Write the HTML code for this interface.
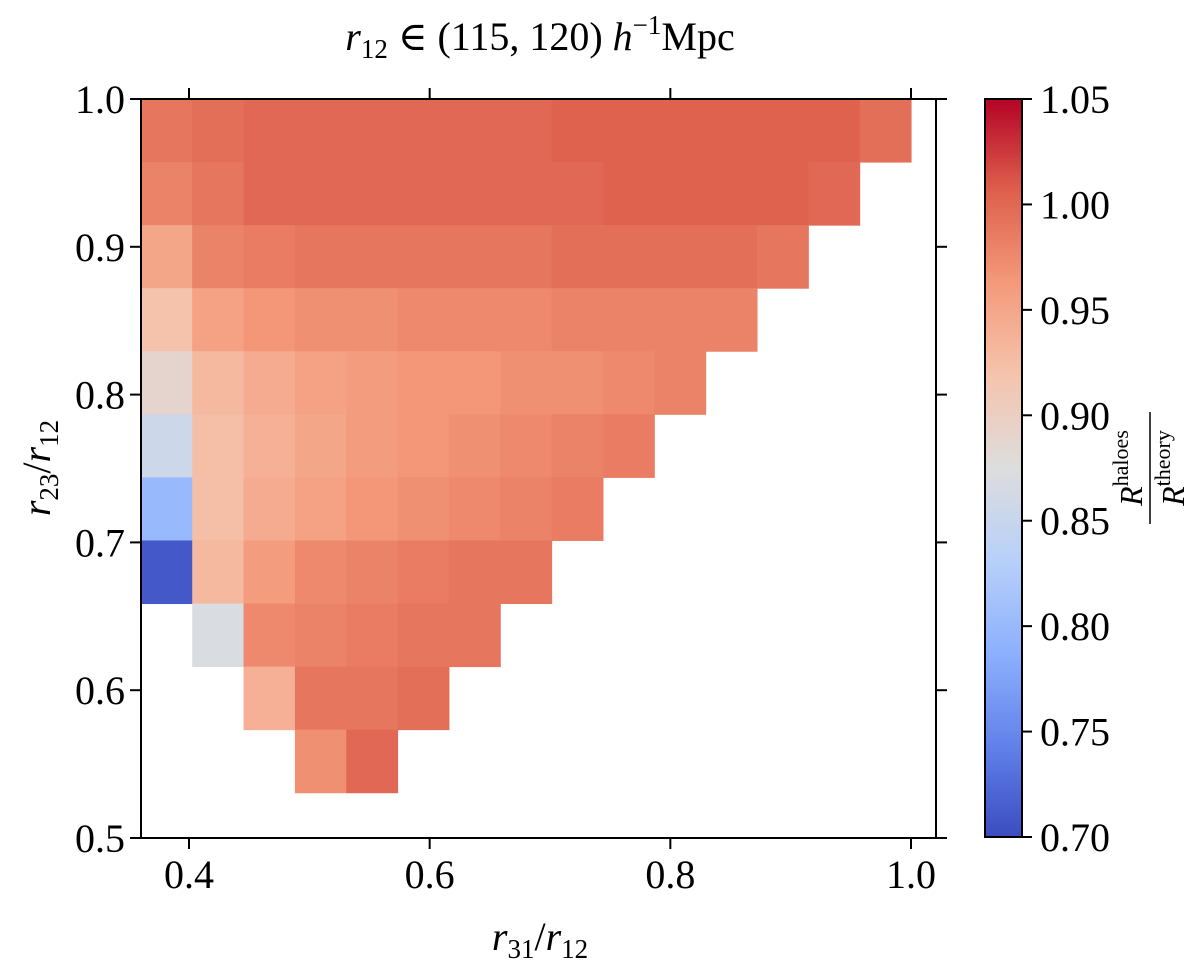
<!DOCTYPE html>
<html><head><meta charset="utf-8">
<style>
html,body{margin:0;padding:0;background:#fff;}
svg{display:block;font-family:"Liberation Serif","DejaVu Serif",serif;}
</style></head>
<body>
<svg id="chart" width="1200" height="963" viewBox="0 0 1200 963" xmlns="http://www.w3.org/2000/svg">
<defs>
<linearGradient id="cbgrad" x1="0" y1="1" x2="0" y2="0"></linearGradient>
</defs>
<g id="cells"></g>
<g id="axes"></g>
<text x="540" y="50" font-size="40" text-anchor="middle"><tspan font-style="italic">r</tspan><tspan font-size="27" dy="8">12</tspan><tspan dy="-8"> ∈ (115, 120) </tspan><tspan font-style="italic">h</tspan><tspan font-size="27" dy="-16">−1</tspan><tspan dy="16">Mpc</tspan></text>
<text x="540" y="950" font-size="40" text-anchor="middle"><tspan font-style="italic">r</tspan><tspan font-size="27" dy="8">31</tspan><tspan dy="-8">/</tspan><tspan font-style="italic">r</tspan><tspan font-size="27" dy="8">12</tspan></text>
<text transform="translate(50,468) rotate(-90)" font-size="40" text-anchor="middle"><tspan font-style="italic">r</tspan><tspan font-size="27" dy="8">23</tspan><tspan dy="-8">/</tspan><tspan font-style="italic">r</tspan><tspan font-size="27" dy="8">12</tspan></text>
<g transform="translate(1148,468) rotate(-90)">
<text x="0" y="-6" font-size="32" text-anchor="middle" font-style="italic">R<tspan font-style="normal" font-size="22" dy="-14">haloes</tspan></text>
<line x1="-56" y1="2" x2="56" y2="2" stroke="#000" stroke-width="1.5"/>
<text x="0" y="36" font-size="32" text-anchor="middle" font-style="italic">R<tspan font-style="normal" font-size="22" dy="-14">theory</tspan></text>
</g>
</svg>
<script>
const xStart = 0.36;
const binW = 0.04267;
const yTop = 1.0;
const binH = 0.04267;
const rowStartCols = [0,0,0,0,0,0,0,0,1,2,3];
const row0 = [0.99,0.995,1.0,1.0,1.0,1.0,1.0,1.0,1.005,1.005,1.005,1.005,1.005,1.005,0.995];
const row1 = [0.98,0.99,1.0,1.0,1.0,1.0,1.0,1.0,1.0,1.005,1.005,1.005,1.005,1.0];
const row2 = [0.95,0.98,0.985,0.99,0.99,0.99,0.99,0.99,0.995,0.995,0.995,0.995,0.99];
const row3 = [0.92,0.955,0.965,0.97,0.97,0.975,0.975,0.975,0.98,0.98,0.98,0.98];
const row4 = [0.89,0.93,0.945,0.955,0.96,0.965,0.965,0.97,0.97,0.975,0.98];
const row5 = [0.855,0.925,0.94,0.95,0.96,0.965,0.97,0.975,0.98,0.985];
const row6 = [0.80,0.925,0.945,0.955,0.965,0.97,0.975,0.98,0.985];
const row7 = [0.71,0.93,0.96,0.975,0.98,0.985,0.99,0.99];
const row8 = [0.87,0.975,0.98,0.985,0.99,0.99];
const row9 = [0.94,0.99,0.99,0.995];
const row10 = [0.97,1.0];
const rows = [row0,row1,row2,row3,row4,row5,row6,row7,row8,row9,row10];
const xTicks = [0.4,0.6,0.8,1.0];
const xTickLabels = ["0.4","0.6","0.8","1.0"];
const yTicks = [0.5,0.6,0.7,0.8,0.9,1.0];
const yTickLabels = ["0.5","0.6","0.7","0.8","0.9","1.0"];
const cbTicks = [0.70,0.75,0.80,0.85,0.90,0.95,1.00,1.05];
const cbTickLabels = ["0.70","0.75","0.80","0.85","0.90","0.95","1.00","1.05"];
const vmin = 0.70, vmax = 1.05;

const NS = "http://www.w3.org/2000/svg";
const L = 141, R = 936, T = 99, B = 838;
function xs(v){ return 189 + (v-0.4)*(911-189)/0.6; }
function ys(v){ return 838 - (v-0.5)*(838-99)/0.5; }
function cs(v){ return 837 - (v-vmin)*(837-99)/(vmax-vmin); }

const cw = [[0,59,76,192],[0.125,98,130,234],[0.25,141,176,254],[0.375,184,208,249],[0.5,221,221,221],[0.625,245,196,173],[0.75,244,154,123],[0.875,222,96,77],[1,180,4,38]];
function cmap(v){
  let t = Math.max(0,Math.min(1,(v-vmin)/(vmax-vmin)));
  for(let i=0;i<cw.length-1;i++){
    const a=cw[i], b=cw[i+1];
    if(t<=b[0]){
      const f=(t-a[0])/(b[0]-a[0]);
      return `rgb(${Math.round(a[1]+f*(b[1]-a[1]))},${Math.round(a[2]+f*(b[2]-a[2]))},${Math.round(a[3]+f*(b[3]-a[3]))})`;
    }
  }
  return "rgb(180,4,38)";
}
function mk(tag, attrs, parent){
  const e=document.createElementNS(NS,tag);
  for(const k in attrs) e.setAttribute(k,attrs[k]);
  parent.appendChild(e);
  return e;
}
const cells=document.getElementById('cells');
rows.forEach((row,ri)=>{
  row.forEach((v,ci)=>{
    if(v==null) return;
    const c = rowStartCols[ri]+ci;
    const x0=xs(xStart+c*binW), x1=xs(xStart+(c+1)*binW);
    const y0=ys(yTop-ri*binH), y1=ys(yTop-(ri+1)*binH);
    const r=mk('rect',{x:x0,y:y0,width:x1-x0+0.5,height:y1-y0+0.5,fill:cmap(v)},cells);
    
    
  });
});
const ax=document.getElementById('axes');
const frame=mk('rect',{x:L,y:T,width:R-L,height:B-T,fill:"none",stroke:"#000","stroke-width":2},ax);


xTicks.forEach((v,i)=>{
  const x=xs(v);
  mk('line',{x1:x,y1:B,x2:x,y2:B+11,stroke:"#000","stroke-width":2},ax);
  mk('line',{x1:x,y1:T,x2:x,y2:T-11,stroke:"#000","stroke-width":2},ax);
  const t=mk('text',{x:x,y:B+50,"font-size":40,"text-anchor":"middle"},ax);
  t.textContent=xTickLabels[i];
  
  
});
yTicks.forEach((v,i)=>{
  const y=ys(v);
  mk('line',{x1:L,y1:y,x2:L-11,y2:y,stroke:"#000","stroke-width":2},ax);
  mk('line',{x1:R,y1:y,x2:R+11,y2:y,stroke:"#000","stroke-width":2},ax);
  const t=mk('text',{x:L-16,y:y+14,"font-size":40,"text-anchor":"end"},ax);
  t.textContent=yTickLabels[i];
  
  
});
const grad=document.getElementById('cbgrad');
for(let i=0;i<=40;i++){
  const v=vmin+(vmax-vmin)*i/40;
  mk('stop',{offset:(i/40),"stop-color":cmap(v)},grad);
}
const cbx0=985, cbx1=1022;
const cb=mk('rect',{x:cbx0,y:99,width:cbx1-cbx0,height:738,fill:"url(#cbgrad)",stroke:"#000","stroke-width":2},ax);


cbTicks.forEach((v,i)=>{
  const y=cs(v);
  mk('line',{x1:cbx1,y1:y,x2:cbx1+10,y2:y,stroke:"#000","stroke-width":2},ax);
  const t=mk('text',{x:cbx1+18,y:y+14,"font-size":40},ax);
  t.textContent=cbTickLabels[i];
  
  
});
</script>
</body></html>
